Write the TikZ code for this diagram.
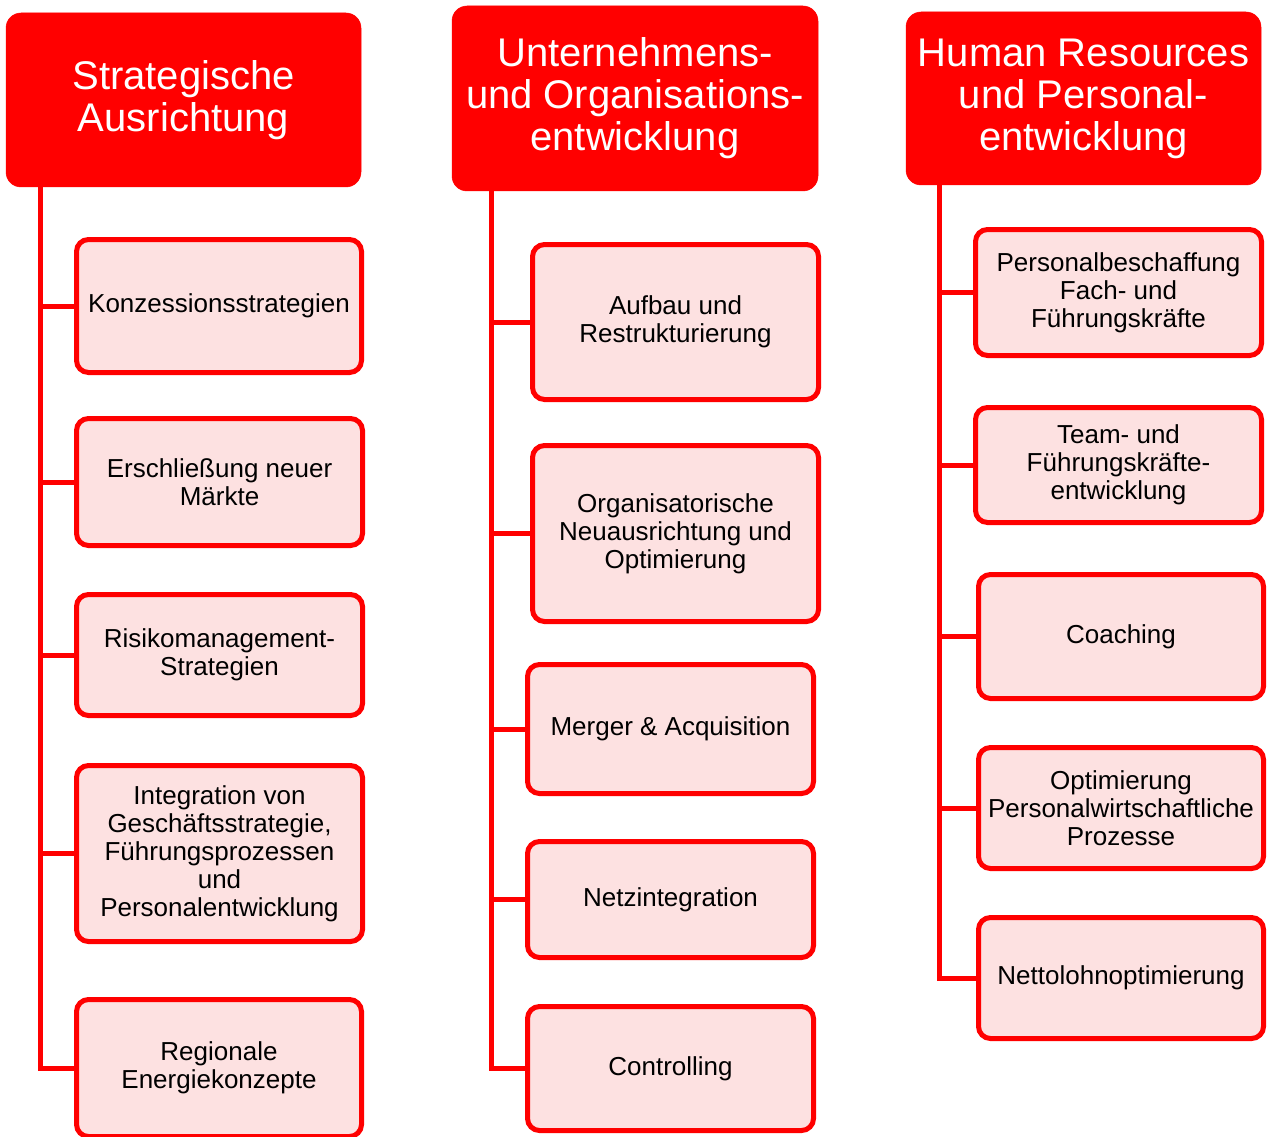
\documentclass[tikz,border=0pt]{standalone}
\usepackage{fontspec}
\setmainfont{Liberation Sans}
\definecolor{hred}{HTML}{FF0000}
\definecolor{cpink}{HTML}{FDE1E1}
\begin{document}
\begin{tikzpicture}[x=1pt,y=-1pt,
  header/.style={fill=hred,draw=hred,line width=0.5pt,rounded corners=15pt,
    text=white,align=center,inner sep=0pt,
    font=\fontsize{40}{42}\selectfont},
  childbox/.style={fill=cpink,draw=hred,line width=5pt,rounded corners=12pt,
    text=black,align=center,inner sep=0pt,
    font=\fontsize{26}{28}\selectfont},
  conn/.style={draw=hred,line width=5pt}]
\useasboundingbox (0,0) rectangle (1267,1137);
% headers
\node[header,minimum width=355pt,minimum height=174pt] (h1) at (183.5,100) {Strategische\\Ausrichtung};
\node[header,minimum width=366pt,minimum height=185pt] (h2) at (635,98.5) {Unternehmens-\\und Organisations-\\entwicklung};
\node[header,minimum width=355pt,minimum height=173pt] (h3) at (1083.5,98.5) {Human Resources\\und Personal-\\entwicklung};
% trunk tops
\coordinate (t1) at (40,187);
\coordinate (t2) at (491,191);
\coordinate (t3) at (939,185);
% column 1
\node[childbox,minimum width=285pt,minimum height=133pt] (k1) at (219,306) {Konzessionsstrategien};
\node[childbox,minimum width=286pt,minimum height=127pt] (k2) at (219.5,482) {Erschließung neuer\\Märkte};
\node[childbox,minimum width=286pt,minimum height=121pt] (k3) at (219.5,655) {Risikomanagement-\\Strategien};
\node[childbox,minimum width=286pt,minimum height=176pt] (k4) at (219.5,853.5) {Integration von\\Geschäftsstrategie,\\Führungsprozessen\\und\\Personalentwicklung};
\node[childbox,minimum width=285pt,minimum height=137pt] (k5) at (219,1068) {Regionale\\Energiekonzepte};
% column 2
\node[childbox,minimum width=286pt,minimum height=155pt] (m1) at (675.5,322) {Aufbau und\\Restrukturierung};
\node[childbox,minimum width=286pt,minimum height=176pt] (m2) at (675.5,533.5) {Organisatorische\\Neuausrichtung und\\Optimierung};
\node[childbox,minimum width=286pt,minimum height=129pt] (m3) at (670.5,729) {Merger \& Acquisition};
\node[childbox,minimum width=286pt,minimum height=116pt] (m4) at (670.5,899.5) {Netzintegration};
\node[childbox,minimum width=286pt,minimum height=124pt] (m5) at (670.5,1068.5) {Controlling};
% column 3
\node[childbox,minimum width=286pt,minimum height=126pt] (r1) at (1118.5,292.5) {Personalbeschaffung\\Fach- und\\Führungskräfte};
\node[childbox,minimum width=286pt,minimum height=115pt] (r2) at (1118.5,465) {Team- und\\Führungskräfte-\\entwicklung};
\node[childbox,minimum width=285pt,minimum height=124pt] (r3) at (1121,636.5) {Coaching};
\node[childbox,minimum width=285pt,minimum height=121pt] (r4) at (1121,808) {Optimierung\\Personalwirtschaftliche\\Prozesse};
\node[childbox,minimum width=285pt,minimum height=121pt] (r5) at (1121,978) {Nettolohnoptimierung};
% connectors
\begin{scope}[on background layer/.style={}]
\draw[conn,line join=miter] (t1) |- (k5.west);
\foreach \n in {k1,k2,k3,k4} \draw[conn] (\n.west -| t1) -- (\n.west);
\draw[conn,line join=miter] (t2) |- (m5.west);
\foreach \n in {m1,m2,m3,m4} \draw[conn] (\n.west -| t2) -- (\n.west);
\draw[conn,line join=miter] (t3) |- (r5.west);
\foreach \n in {r1,r2,r3,r4} \draw[conn] (\n.west -| t3) -- (\n.west);
\end{scope}
\end{tikzpicture}
\end{document}
